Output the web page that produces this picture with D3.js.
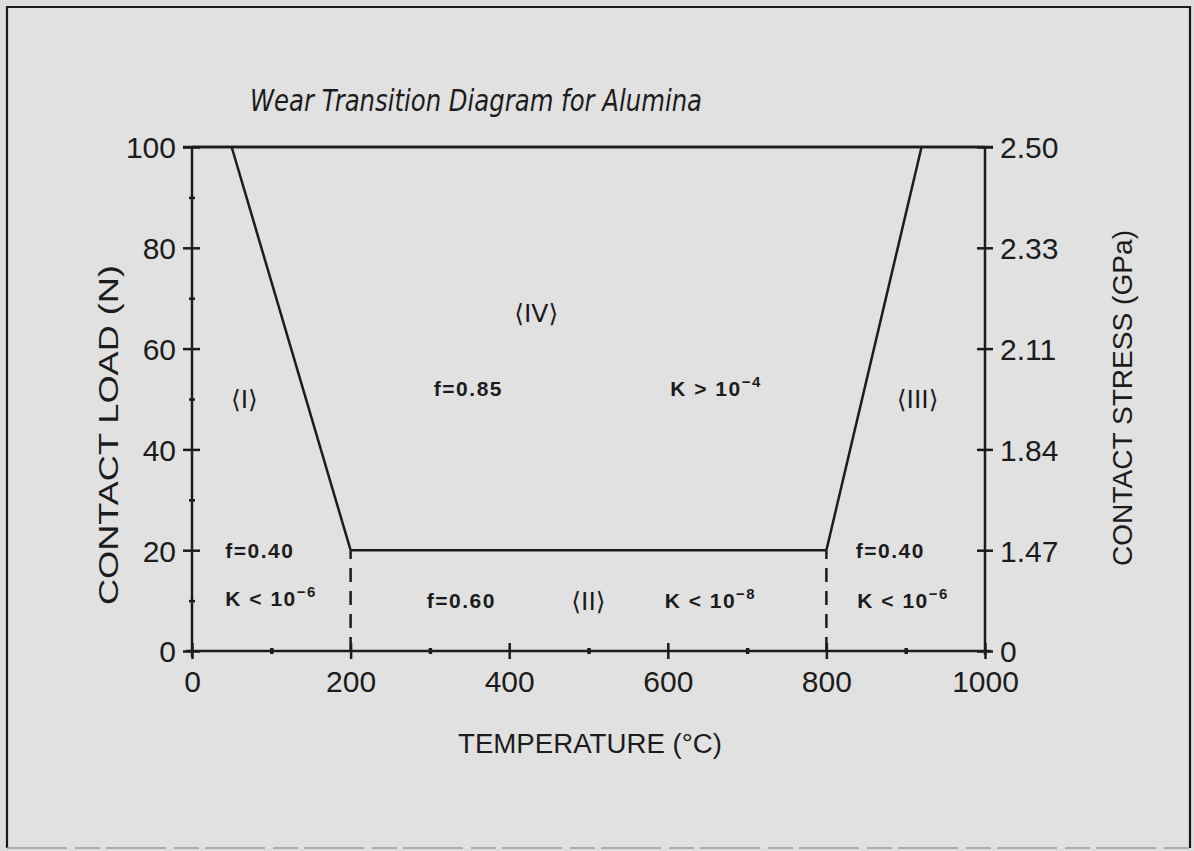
<!DOCTYPE html>
<html><head><meta charset="utf-8">
<script src="https://cdn.jsdelivr.net/npm/d3@7"></script>
<style>
html,body{margin:0;padding:0;background:#dfdfdf;}
svg{display:block;}
</style></head>
<body>
<svg id="chart" width="1194" height="851"></svg>
<script>
// ---- data ----
const titleText = "Wear Transition Diagram for Alumina";
const xTicks = [0, 200, 400, 600, 800, 1000];
const xMinor = [100, 300, 500, 700, 900];
const yTicks = [0, 20, 40, 60, 80, 100];
const yMinor = [10, 30, 50, 70, 90];
const rightTickLabels = ["0", "1.47", "1.84", "2.11", "2.33", "2.50"];
const xTitle = "TEMPERATURE (°C)";
const yTitle = "CONTACT LOAD (N)";
const y2Title = "CONTACT STRESS (GPa)";
const boundaryLeft = [[50, 100], [200, 20]];
const boundaryMid = [[200, 20], [800, 20]];
const boundaryRight = [[800, 20], [920, 100]];
const topLine = [[0, 100], [1000, 100]];
const dashedX = [200, 800];
const dashedRange = [0, 20];
const regionLabels = [
  {t: "⟨I⟩", x: 66, y: 50},
  {t: "⟨IV⟩", x: 434, y: 67},
  {t: "⟨III⟩", x: 915, y: 50},
  {t: "⟨II⟩", x: 500, y: 10}
];
const annotations = [
  {base: "f=0.85", sup: "", x: 305, y: 52},
  {base: "K > 10", sup: "−4", x: 603, y: 52},
  {base: "f=0.40", sup: "", x: 42, y: 20},
  {base: "K < 10", sup: "−6", x: 42, y: 10.5},
  {base: "f=0.60", sup: "", x: 296, y: 10},
  {base: "K < 10", sup: "−8", x: 596, y: 10},
  {base: "f=0.40", sup: "", x: 837, y: 20},
  {base: "K < 10", sup: "−6", x: 839, y: 10}
];

// ---- drawing ----
const svg = d3.select("#chart");
const ink = "#1c1c1c";
const font = "'Liberation Sans', Arial, sans-serif";

// frame
svg.append("rect").attr("x", 0).attr("y", 0).attr("width", 1194).attr("height", 851).attr("fill", "#dddddd");
svg.append("rect").attr("x", 7).attr("y", 7).attr("width", 1183).attr("height", 841).attr("fill", "#e1e1e1");
svg.append("path").attr("d", "M7,848 L7,7 L1190,7 L1190,848")
  .attr("fill", "none").attr("stroke", "#1a1a1a").attr("stroke-width", 2.2);
svg.append("line").attr("x1", 7).attr("x2", 1190).attr("y1", 848).attr("y2", 848)
  .attr("stroke", "#9a9a9a").attr("stroke-width", 1.5).attr("stroke-dasharray", "60,8,25,6");

const x = d3.scaleLinear().domain([0, 1000]).range([192, 985]);
const y = d3.scaleLinear().domain([0, 100]).range([651, 147]);

// title
svg.append("text").text(titleText)
  .attr("x", 250).attr("y", 111)
  .attr("textLength", 452).attr("lengthAdjust", "spacingAndGlyphs")
  .attr("font-family", "'DejaVu Sans', sans-serif").attr("font-style", "italic")
  .attr("font-weight", 300).attr("font-size", 31).attr("fill", ink);

// axes
function styleAxis(g) {
  g.selectAll(".domain").attr("stroke", ink).attr("stroke-width", 2.5);
  g.selectAll(".tick line").attr("stroke", ink).attr("stroke-width", 2.5);
  g.selectAll(".tick text").attr("fill", ink).attr("font-family", font).attr("font-size", 30);
}
const gx = svg.append("g").attr("transform", `translate(0,${y(0)})`)
  .call(d3.axisBottom(x).tickValues(xTicks).tickFormat(d3.format("d")).tickSizeOuter(0));
styleAxis(gx);
gx.selectAll(".tick line").attr("y1", -8).attr("y2", 8);
gx.selectAll(".tick text").attr("y", 20);
gx.select(".domain").attr("d", `M${x(0) - 6},0H${x(1000) + 6}`);
const gxm = svg.append("g").attr("transform", `translate(0,${y(0)})`)
  .call(d3.axisBottom(x).tickValues(xMinor).tickFormat("").tickSizeOuter(0));
gxm.select(".domain").remove();
gxm.selectAll(".tick line").attr("y1", -3).attr("y2", 3).attr("stroke", ink).attr("stroke-width", 3.5);

const gy = svg.append("g").attr("transform", `translate(${x(0)},0)`)
  .call(d3.axisLeft(y).tickValues(yTicks).tickFormat(d3.format("d")).tickSizeOuter(0));
styleAxis(gy);
gy.selectAll(".tick line").attr("x1", -9).attr("x2", 8);
gy.selectAll(".tick text").attr("x", -16).attr("dy", "0.36em");
gy.select(".domain").attr("d", `M0,${y(0) + 6}V${y(100)}`);
const gym = svg.append("g").attr("transform", `translate(${x(0)},0)`)
  .call(d3.axisLeft(y).tickValues(yMinor).tickFormat("").tickSizeOuter(0));
gym.select(".domain").remove();
gym.selectAll(".tick line").attr("x1", -3).attr("x2", 3).attr("stroke", ink).attr("stroke-width", 2.5);

const gy2 = svg.append("g").attr("transform", `translate(${x(1000)},0)`)
  .call(d3.axisRight(y).tickValues(yTicks).tickFormat((d, i) => rightTickLabels[i]).tickSizeOuter(0));
styleAxis(gy2);
gy2.selectAll(".tick line").attr("x1", -8).attr("x2", 8);
gy2.selectAll(".tick text").attr("x", 15).attr("dy", "0.36em");
gy2.select(".domain").attr("d", `M0,${y(0) + 4}V${y(100)}`);

// axis titles
svg.append("text").text(xTitle)
  .attr("x", 458).attr("y", 753)
  .attr("textLength", 264).attr("lengthAdjust", "spacingAndGlyphs")
  .attr("font-family", font).attr("font-size", 27).attr("fill", ink);
svg.append("text").text(yTitle)
  .attr("transform", "translate(118,605) rotate(-90)")
  .attr("textLength", 340).attr("lengthAdjust", "spacingAndGlyphs")
  .attr("font-family", font).attr("font-size", 27).attr("fill", ink);
svg.append("text").text(y2Title)
  .attr("transform", "translate(1132,566) rotate(-90)")
  .attr("textLength", 336).attr("lengthAdjust", "spacingAndGlyphs")
  .attr("font-family", font).attr("font-size", 27).attr("fill", ink);

// boundary lines
const line = d3.line().x(d => x(d[0])).y(d => y(d[1]));
[topLine, boundaryLeft, boundaryMid, boundaryRight].forEach(p => {
  svg.append("path").attr("d", line(p)).attr("fill", "none")
    .attr("stroke", ink).attr("stroke-width", 2.5);
});
svg.append("line").attr("x1", x(0) - 9).attr("x2", x(1000) + 8).attr("y1", y(100)).attr("y2", y(100))
  .attr("stroke", ink).attr("stroke-width", 2.5);
dashedX.forEach(v => {
  svg.append("line").attr("x1", x(v)).attr("x2", x(v))
    .attr("y1", y(dashedRange[0])).attr("y2", y(dashedRange[1]))
    .attr("stroke", ink).attr("stroke-width", 2.5).attr("stroke-dasharray", "14,9");
});

// region labels
regionLabels.forEach(r => {
  svg.append("text").text(r.t).attr("x", x(r.x)).attr("y", y(r.y)).attr("dy", "0.36em")
    .attr("text-anchor", "middle").attr("font-family", "'DejaVu Sans', sans-serif")
    .attr("font-size", 25).attr("fill", ink);
});

// annotations
annotations.forEach(a => {
  const t = svg.append("text").attr("x", x(a.x)).attr("y", y(a.y)).attr("dy", "0.36em")
    .attr("font-family", font).attr("font-weight", "bold").attr("font-size", 21)
    .attr("letter-spacing", 1.5).attr("fill", ink);
  t.append("tspan").text(a.base);
  if (a.sup) t.append("tspan").text(a.sup).attr("font-size", 15).attr("dy", "-0.6em");
});
</script>
</body></html>
